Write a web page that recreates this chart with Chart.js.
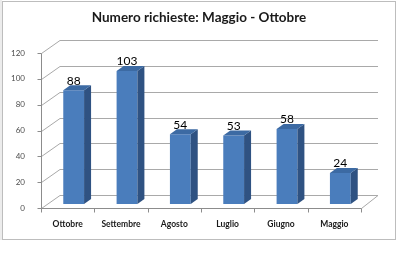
<!DOCTYPE html>
<html>
<head>
<meta charset="utf-8">
<script src="https://cdn.jsdelivr.net/npm/chart.js@4.4.0/dist/chart.umd.min.js"></script>
<style>
  html, body { margin: 0; padding: 0; background: #fff; }
  #wrap { width: 400px; height: 265px; }
</style>
</head>
<body>
<div id="wrap"><canvas id="c"></canvas></div>
<script>
const titleText = 'Numero richieste: Maggio - Ottobre';
const months = ['Ottobre', 'Settembre', 'Agosto', 'Luglio', 'Giugno', 'Maggio'];
const richieste = [88, 103, 54, 53, 58, 24];
const yTicks = [0, 20, 40, 60, 80, 100, 120];

// 3D look: offsets of the front axis plane and back wall relative to the bar faces
const FRONT = { dx: -6, dy: 4 };
const BACK = { dx: 13, dy: -9 };
const DEPTH = { dx: 7, dy: -5 };

const walls = {
  id: 'walls',
  beforeDraw(chart) {
    const ctx = chart.ctx;
    ctx.save();
    ctx.fillStyle = '#fff';
    ctx.fillRect(0, 0, chart.width, chart.height);
    ctx.fillStyle = '#ececec';
    ctx.fillRect(0, 0, 2, 240);
    ctx.strokeStyle = '#bdbdbd';
    ctx.lineWidth = 1;
    ctx.strokeRect(2.5, 1.5, 393, 238);
    // chart title, centred on the frame rather than on the plot
    ctx.fillStyle = '#1a1a1a';
    ctx.font = 'bold 13.5px Lato';
    ctx.textAlign = 'center';
    ctx.textBaseline = 'middle';
    ctx.fillText(titleText, 199, 18);
    ctx.restore();
  },
  beforeDatasetsDraw(chart) {
    const { ctx, chartArea: a, scales: { y } } = chart;
    const y0 = Math.round(y.getPixelForValue(yTicks[0])) + 0.5;
    const yMax = Math.round(y.getPixelForValue(yTicks[yTicks.length - 1])) + 0.5;
    const fl = a.left + FRONT.dx + 0.5;
    const fr = a.right + FRONT.dx + 0.5;
    ctx.save();
    ctx.lineWidth = 1;
    ctx.strokeStyle = '#a9a9a9';
    ctx.beginPath();
    y.ticks.forEach(t => {
      const py = Math.round(y.getPixelForValue(t.value)) + 0.5;
      ctx.moveTo(a.left + BACK.dx, py + BACK.dy);
      ctx.lineTo(a.right + BACK.dx - 2, py + BACK.dy);
      ctx.moveTo(fl, py + FRONT.dy);
      ctx.lineTo(a.left + BACK.dx, py + BACK.dy);
    });
    // floor right edge
    ctx.moveTo(fr, y0 + FRONT.dy);
    ctx.lineTo(a.right + BACK.dx - 2, y0 + BACK.dy);
    ctx.stroke();

    ctx.strokeStyle = '#8c8c8c';
    ctx.beginPath();
    ctx.moveTo(fl, yMax + FRONT.dy);
    ctx.lineTo(fl, y0 + FRONT.dy);
    ctx.lineTo(fr, y0 + FRONT.dy);
    y.ticks.forEach(t => {
      const py = Math.round(y.getPixelForValue(t.value)) + 0.5;
      ctx.moveTo(fl - 4, py + FRONT.dy);
      ctx.lineTo(fl, py + FRONT.dy);
    });
    const step = (a.right - a.left) / months.length;
    for (let i = 0; i <= months.length; i++) {
      const px = Math.round(a.left + FRONT.dx + i * step) + 0.5;
      ctx.moveTo(px, y0 + FRONT.dy);
      ctx.lineTo(px, y0 + FRONT.dy + 4);
    }
    ctx.stroke();
    ctx.restore();
  },
  afterDatasetsDraw(chart) {
    const ctx = chart.ctx;
    const meta = chart.getDatasetMeta(0);
    ctx.save();
    meta.data.forEach((bar, i) => {
      const p = bar.getProps(['x', 'y', 'base', 'width'], true);
      const l = p.x - p.width / 2, r = p.x + p.width / 2;
      // side face
      ctx.fillStyle = '#2f5282';
      ctx.beginPath();
      ctx.moveTo(r, p.y);
      ctx.lineTo(r + DEPTH.dx, p.y + DEPTH.dy);
      ctx.lineTo(r + DEPTH.dx, p.base + DEPTH.dy);
      ctx.lineTo(r, p.base);
      ctx.closePath();
      ctx.fill();
      // top face
      ctx.fillStyle = '#3c6aa3';
      ctx.beginPath();
      ctx.moveTo(l, p.y);
      ctx.lineTo(l + DEPTH.dx, p.y + DEPTH.dy);
      ctx.lineTo(r + DEPTH.dx, p.y + DEPTH.dy);
      ctx.lineTo(r, p.y);
      ctx.closePath();
      ctx.fill();
      // value label
      ctx.fillStyle = '#000';
      ctx.font = '12px Lato';
      ctx.textAlign = 'center';
      ctx.textBaseline = 'middle';
      ctx.fillText(String(richieste[i]), p.x, p.y - 9.5);
    });
    ctx.restore();
  }
};

new Chart(document.getElementById('c'), {
  type: 'bar',
  data: {
    labels: months,
    datasets: [{
      label: 'Numero richieste',
      data: richieste,
      backgroundColor: '#4a7dbc',
      borderWidth: 0,
      categoryPercentage: 1,
      barPercentage: 0.39
    }]
  },
  options: {
    responsive: true,
    maintainAspectRatio: false,
    animation: false,
    layout: { padding: { top: 49, left: 3, right: 33, bottom: 31 } },
    plugins: {
      legend: { display: false },
      tooltip: { enabled: false },
      title: { display: false }
    },
    scales: {
      x: {
        grid: { display: false },
        border: { display: false },
        ticks: {
          color: '#1a1a1a',
          font: { family: 'Lato', size: 8.5, weight: 'bold' },
          labelOffset: FRONT.dx,
          padding: 7,
          maxRotation: 0
        },
        afterFit(scale) { scale.height = 30; }
      },
      y: {
        min: yTicks[0],
        max: yTicks[yTicks.length - 1],
        grid: { display: false },
        border: { display: false },
        ticks: {
          stepSize: yTicks[1] - yTicks[0],
          color: '#4d4d4d',
          font: { family: 'Lato', size: 8 },
          labelOffset: FRONT.dy,
          padding: 14
        },
        afterFit(scale) { scale.width = 44; }
      }
    }
  },
  plugins: [walls]
});
</script>
</body>
</html>
